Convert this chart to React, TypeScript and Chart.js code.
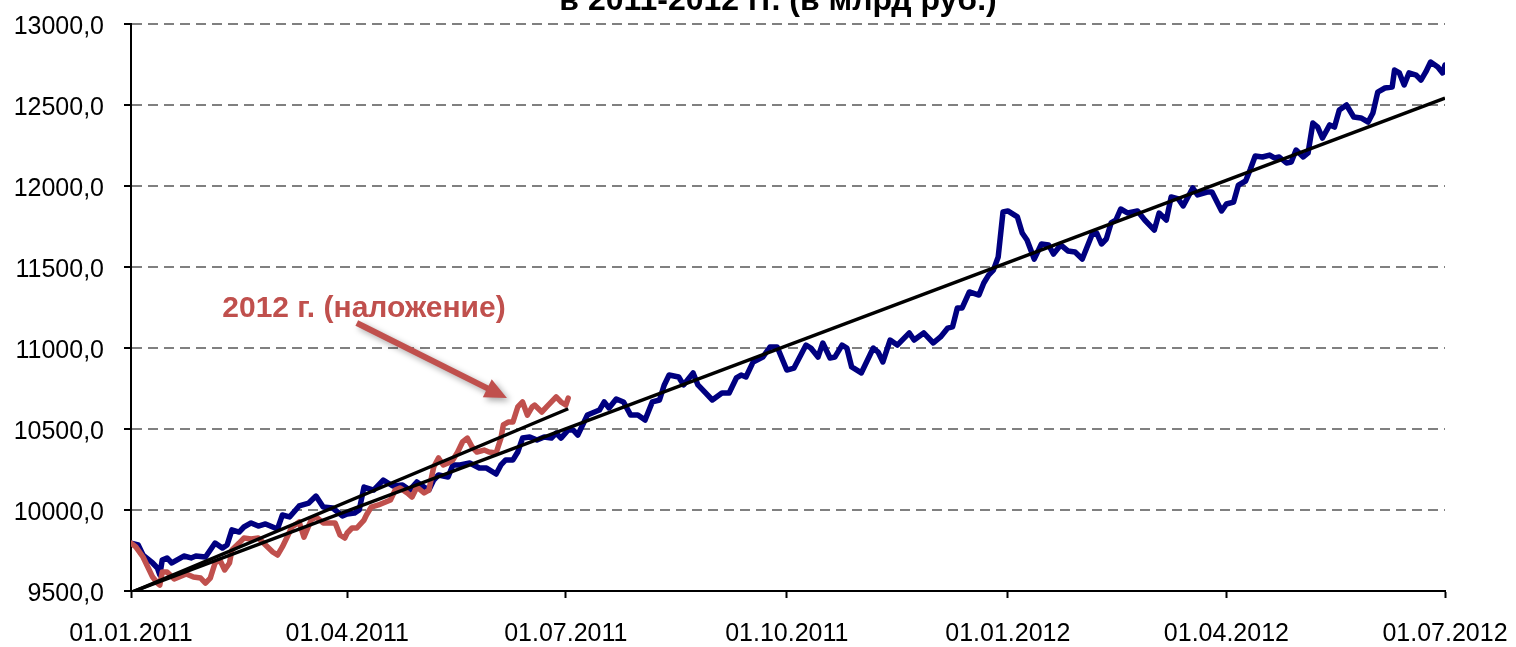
import React, { useEffect, useRef } from "react";
import { Chart, registerables } from "chart.js";

Chart.register(...registerables);

// ---------- data ----------
const titleText = "в 2011-2012 гг. (в млрд руб.)";
const annotationText = "2012 г. (наложение)";

const xTickLabels = ["01.01.2011", "01.04.2011", "01.07.2011", "01.10.2011", "01.01.2012", "01.04.2012", "01.07.2012"];
const yMin = 9500;
const yMax = 13000;
const yStep = 500;

// days since 01.01.2011
const blueDays = [
  0, 3, 5, 9, 11, 12, 13, 15, 17, 22, 25, 27, 31, 35, 38, 40, 42, 45, 47, 50,
  53, 56, 59, 61, 63, 66, 70, 74, 77, 80, 84, 88, 90, 93, 95, 97, 101, 105, 109, 113,
  116, 119, 122, 124, 126, 128, 132, 134, 137, 141, 145, 148, 152, 154, 156, 159, 161, 163, 166, 169,
  172, 175, 177, 179, 182, 184, 186, 190, 195, 197, 199, 202, 205, 208, 211, 214, 217, 220, 222, 224,
  228, 230, 234, 236, 238, 242, 246, 249, 252, 254, 256, 259, 263, 266, 269, 273, 276, 281, 283, 286,
  288, 291, 293, 296, 298, 300, 304, 309, 311, 313, 316, 319, 324, 326, 330, 334, 337, 340, 342, 344,
  346, 349, 353, 355, 357, 359, 361, 363, 365, 369, 371, 373, 376, 379, 382, 384, 387, 390, 393, 396,
  400, 402, 404, 406, 408, 410, 412, 415, 419, 422, 426, 428, 431, 433, 436, 438, 442, 444, 448, 450,
  454, 456, 459, 461, 464, 466, 468, 471, 474, 476, 478, 481, 483, 485, 488, 490, 492, 494, 496, 499,
  501, 503, 506, 509, 512, 515, 517, 519, 522, 525, 526, 528, 530, 532, 535, 537, 539, 541, 544, 546,
  547,
];
const blueValues = [
  9796, 9784, 9722, 9673, 9642, 9600, 9691, 9704, 9673, 9716, 9704, 9716, 9710, 9796, 9765, 9784, 9877, 9864, 9895, 9920,
  9901, 9914, 9895, 9883, 9969, 9957, 10025, 10043, 10086, 10018, 10012, 9963, 9975, 9981, 10000, 10142, 10123, 10185, 10148, 10154,
  10123, 10173, 10142, 10123, 10185, 10216, 10204, 10278, 10278, 10290, 10259, 10259, 10222, 10278, 10309, 10309, 10358, 10444, 10451, 10432,
  10451, 10444, 10475, 10444, 10494, 10494, 10463, 10586, 10617, 10667, 10630, 10685, 10667, 10586, 10586, 10555, 10667, 10679, 10772, 10833,
  10821, 10772, 10846, 10772, 10741, 10679, 10722, 10722, 10815, 10833, 10821, 10914, 10944, 11006, 11006, 10864, 10876, 11018, 11000, 10944,
  11031, 10938, 10944, 11018, 11000, 10883, 10846, 11000, 10975, 10914, 11049, 11018, 11093, 11049, 11093, 11031, 11068, 11123, 11130, 11247,
  11247, 11346, 11327, 11401, 11450, 11481, 11562, 11840, 11846, 11809, 11710, 11667, 11549, 11642, 11636, 11580, 11636, 11599, 11593, 11549,
  11698, 11710, 11642, 11673, 11772, 11790, 11858, 11833, 11846, 11790, 11728, 11833, 11790, 11932, 11920, 11877, 11988, 11945, 11963, 11963,
  11846, 11889, 11901, 12006, 12031, 12105, 12185, 12179, 12191, 12173, 12179, 12142, 12148, 12222, 12179, 12204, 12389, 12364, 12296, 12377,
  12364, 12469, 12500, 12426, 12420, 12395, 12451, 12580, 12605, 12611, 12716, 12698, 12624, 12698, 12685, 12654, 12704, 12765, 12735, 12698,
  12747,
];

// 2012 overlaid onto the 2011 axis (days since 01.01)
const redDays = [
  0, 2, 5, 7, 9, 11, 12, 13, 15, 18, 20, 23, 26, 29, 31, 33, 35, 37, 39, 41,
  42, 45, 47, 50, 53, 56, 59, 61, 63, 65, 67, 70, 72, 75, 77, 80, 83, 85, 87, 89,
  90, 92, 94, 97, 98, 100, 103, 106, 108, 110, 112, 115, 117, 119, 122, 124, 126, 128, 130, 132,
  134, 136, 138, 140, 142, 144, 147, 149, 152, 154, 155, 157, 159, 161, 163, 165, 167, 168, 171, 173,
  175, 177, 179, 181, 182,
];
const redValues = [
  9796, 9772, 9710, 9648, 9586, 9549, 9537, 9617, 9617, 9574, 9586, 9605, 9586, 9580, 9549, 9580, 9673, 9691, 9630, 9673,
  9753, 9796, 9827, 9821, 9827, 9784, 9741, 9722, 9772, 9833, 9895, 9926, 9833, 9938, 9957, 9920, 9920, 9920, 9846, 9827,
  9858, 9889, 9889, 9938, 9969, 10018, 10031, 10049, 10062, 10123, 10136, 10105, 10080, 10142, 10105, 10123, 10265, 10321, 10278, 10290,
  10309, 10358, 10420, 10444, 10389, 10358, 10370, 10358, 10352, 10444, 10525, 10543, 10543, 10636, 10667, 10586, 10636, 10648, 10605, 10636,
  10667, 10698, 10667, 10648, 10691,
];

// linear trend lines (end points)
const blueTrendDays = [0, 547];
const blueTrendValues = [9492, 12543];
const redTrendDays = [0, 182];
const redTrendValues = [9490, 10625];

// annotation anchors in data space [day, value]
const annotationTextAt = [38, 11191];
const arrowFrom = [94, 11154];
const arrowTo = [156.5, 10691];

// ---------- helpers ----------
const FONT = "'Liberation Sans', Arial, sans-serif";
const BLUE = "#000080";
const RED = "#C0504D";

function dayOf(label: string): number {
  const [d, m, y] = label.split(".").map(Number);
  return Math.round((Date.UTC(y, m - 1, d) - Date.UTC(2011, 0, 1)) / 86400000);
}
const xTickDays = xTickLabels.map(dayOf);

function zip(days: number[], values: number[]) {
  const n = Math.min(days.length, values.length);
  const out: { x: number; y: number }[] = [];
  for (let i = 0; i < n; i++) out.push({ x: days[i], y: values[i] });
  return out;
}

const overlayPlugin = {
  id: "overlay",
  afterDraw(chart: any) {
    const { ctx, scales, chartArea } = chart;
    const sx = scales.x;
    const sy = scales.y;
    ctx.save();
    // title (second line, partly above the canvas)
    ctx.fillStyle = "#000";
    ctx.font = `bold 32px ${FONT}`;
    ctx.textAlign = "center";
    ctx.textBaseline = "alphabetic";
    ctx.fillText(titleText, (chartArea.left + chartArea.right) / 2 - 10, 10);

    // annotation text
    ctx.fillStyle = RED;
    ctx.font = `bold 30px ${FONT}`;
    ctx.textAlign = "left";
    ctx.fillText(annotationText, sx.getPixelForValue(annotationTextAt[0]), sy.getPixelForValue(annotationTextAt[1]));

    // arrow
    const x1 = sx.getPixelForValue(arrowFrom[0]);
    const y1 = sy.getPixelForValue(arrowFrom[1]);
    const x2 = sx.getPixelForValue(arrowTo[0]);
    const y2 = sy.getPixelForValue(arrowTo[1]);
    const ang = Math.atan2(y2 - y1, x2 - x1);
    const headLen = 22;
    const headHalf = 10;
    const bx = x2 - headLen * Math.cos(ang);
    const by = y2 - headLen * Math.sin(ang);
    ctx.shadowColor = "rgba(0,0,0,0.35)";
    ctx.shadowBlur = 6;
    ctx.shadowOffsetX = 3;
    ctx.shadowOffsetY = 3;
    ctx.strokeStyle = RED;
    ctx.lineWidth = 6;
    ctx.lineCap = "butt";
    ctx.beginPath();
    ctx.moveTo(x1, y1);
    ctx.lineTo(bx + 2 * Math.cos(ang), by + 2 * Math.sin(ang));
    ctx.stroke();
    ctx.fillStyle = RED;
    ctx.beginPath();
    ctx.moveTo(x2, y2);
    ctx.lineTo(bx + headHalf * Math.sin(ang), by - headHalf * Math.cos(ang));
    ctx.lineTo(bx - headHalf * Math.sin(ang), by + headHalf * Math.cos(ang));
    ctx.closePath();
    ctx.fill();
    ctx.restore();
  },
};

export default function App() {
  const ref = useRef<HTMLCanvasElement | null>(null);

  useEffect(() => {
    document.body.style.margin = "0";
    if (!ref.current) return;
    Chart.defaults.font.family = FONT;
    const chart = new Chart(ref.current, {
      type: "line",
      data: {
        datasets: [
          {
            label: "trend 2011-2012",
            data: zip(blueTrendDays, blueTrendValues),
            borderColor: "#000",
            borderWidth: 3.5,
            pointRadius: 0,
          },
          {
            label: "trend 2012",
            data: zip(redTrendDays, redTrendValues),
            borderColor: "#000",
            borderWidth: 3.5,
            pointRadius: 0,
          },
          {
            label: "2012 (наложение)",
            data: zip(redDays, redValues),
            borderColor: RED,
            borderWidth: 5.5,
            pointRadius: 0,
            borderJoinStyle: "round",
            borderCapStyle: "round",
          },
          {
            label: "2011-2012",
            data: zip(blueDays, blueValues),
            borderColor: BLUE,
            borderWidth: 5.5,
            pointRadius: 0,
            borderJoinStyle: "round",
            borderCapStyle: "round",
          },
        ],
      },
      options: {
        responsive: false,
        animation: false,
        events: [],
        layout: { padding: { left: 0, right: 71, top: 24, bottom: 0 } },
        plugins: {
          legend: { display: false },
          tooltip: { enabled: false },
          title: { display: false },
        },
        elements: { line: { tension: 0 }, point: { radius: 0 } },
        scales: {
          x: {
            type: "linear",
            min: xTickDays[0],
            max: xTickDays[xTickDays.length - 1],
            afterBuildTicks: (s: any) => {
              s.ticks = xTickDays.map((v) => ({ value: v }));
            },
            afterFit: (s: any) => {
              s.height = 56;
              s.paddingLeft = 0;
              s.paddingRight = 0;
            },
            ticks: {
              autoSkip: false,
              maxRotation: 0,
              color: "#000",
              padding: 21,
              font: { size: 25, family: FONT },
              callback: (_v: any, i: number) => xTickLabels[i],
            },
            grid: {
              drawOnChartArea: false,
              drawTicks: true,
              tickLength: 7,
              tickColor: "#000",
              tickWidth: 2,
            },
            border: { display: true, color: "#000", width: 2 },
          },
          y: {
            type: "linear",
            min: yMin,
            max: yMax,
            afterFit: (s: any) => {
              s.width = 131;
              s.paddingTop = 0;
              s.paddingBottom = 0;
            },
            ticks: {
              stepSize: yStep,
              color: "#000",
              padding: 20,
              labelOffset: 3,
              font: { size: 25, family: FONT },
              callback: (v: any) => Number(v).toFixed(1).replace(".", ","),
            },
            grid: {
              color: (c: any) => (c.tick && c.tick.value === yMin ? "rgba(0,0,0,0)" : "#808080"),
              lineWidth: 2,
              drawTicks: true,
              tickLength: 7,
              tickColor: "#000",
              tickWidth: 2,
            },
            border: { display: true, color: "#000", width: 2, dash: [10, 6] },
          },
        },
      },
      plugins: [overlayPlugin],
    } as any);
    return () => chart.destroy();
  }, []);

  return <canvas ref={ref} width={1516} height={647} style={{ display: "block" }} />;
}
